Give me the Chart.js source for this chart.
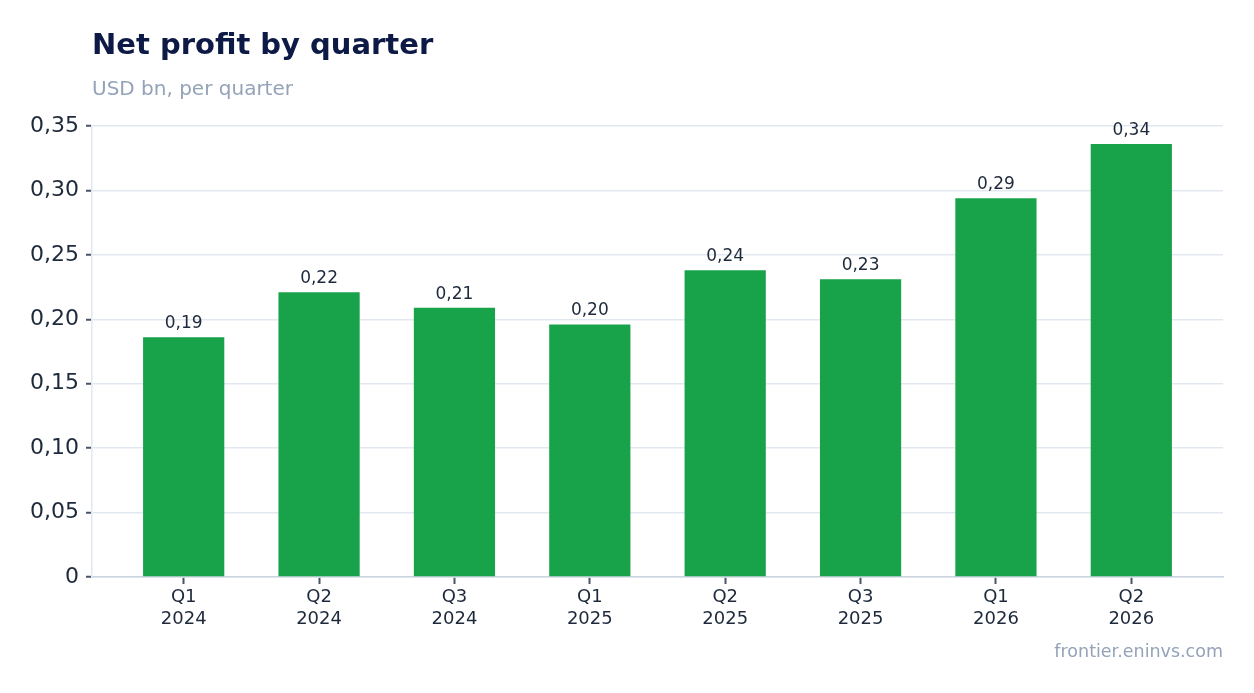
<!DOCTYPE html>
<html>
<head>
<meta charset="utf-8">
<script src="https://cdn.jsdelivr.net/npm/chart.js@4/dist/chart.umd.min.js"></script>
<style>
  html, body { margin: 0; padding: 0; background: #fff; }
  body { width: 1254px; height: 693px; position: relative; overflow: hidden; font-family: "DejaVu Sans", sans-serif; }
  #title { position: absolute; left: 92px; top: 27px; font-size: 29px; font-weight: bold; color: #0c1a45; }
  #subtitle { position: absolute; left: 92px; top: 76px; font-size: 20px; color: #94a3b8; }
  #source { position: absolute; right: 31px; top: 641px; font-size: 17.5px; color: #94a3b8; }
  #wrap { position: absolute; left: 0; top: 0; width: 1254px; height: 693px; }
</style>
</head>
<body>
<div id="wrap"><canvas id="chart"></canvas></div>
<div id="title">Net profit by quarter</div>
<div id="subtitle">USD bn, per quarter</div>
<div id="source">frontier.eninvs.com</div>
<script>
const quarters = ["Q1", "Q2", "Q3", "Q1", "Q2", "Q3", "Q1", "Q2"];
const years = ["2024", "2024", "2024", "2025", "2025", "2025", "2026", "2026"];
const profit = [0.186, 0.221, 0.209, 0.196, 0.238, 0.231, 0.294, 0.336];
const yTicks = [0, 0.05, 0.1, 0.15, 0.2, 0.25, 0.3, 0.35];

const labels = quarters.map((q, i) => [q, years[i]]);
const fmt = (v, d) => (v === 0 ? "0" : v.toFixed(d).replace(".", ","));

// inset the category range a bit so the bars don't touch the axis ends
const xInset = {
  id: "xInset",
  afterLayout(chart) {
    const s = chart.scales.x;
    const pad = 24;
    s._startPixel += pad;
    s._endPixel -= pad;
    s._length -= pad * 2;
  },
};

const valueLabels = {
  id: "valueLabels",
  afterDatasetsDraw(chart) {
    const ctx = chart.ctx;
    const meta = chart.getDatasetMeta(0);
    ctx.save();
    ctx.font = "17px 'DejaVu Sans'";
    ctx.fillStyle = "#1e293b";
    ctx.textAlign = "center";
    ctx.textBaseline = "alphabetic";
    meta.data.forEach((bar, i) => {
      ctx.fillText(fmt(profit[i], 2), bar.x, bar.y - 9);
    });
    ctx.restore();
  },
};

const ctx = document.getElementById("chart").getContext("2d");
new Chart(ctx, {
  type: "bar",
  data: {
    labels: labels,
    datasets: [
      {
        data: profit,
        backgroundColor: "#18a34a",
        barPercentage: 0.6,
        categoryPercentage: 1,
      },
    ],
  },
  options: {
    responsive: true,
    maintainAspectRatio: false,
    animation: false,
    layout: { padding: { top: 126, right: 31, left: 0, bottom: 0 } },
    plugins: {
      legend: { display: false },
      tooltip: { enabled: false },
    },
    scales: {
      x: {
        grid: {
          offset: false,
          drawOnChartArea: false,
          tickLength: 7,
          tickColor: "#475569",
          tickWidth: 2,
        },
        border: { color: "#cbd5e1", width: 1.5 },
        ticks: {
          color: "#1e293b",
          font: { family: "DejaVu Sans", size: 18 },
          padding: 3,
          maxRotation: 0,
        },
        afterFit(scale) { scale.height = 116; },
      },
      y: {
        min: 0,
        max: 0.35,
        afterBuildTicks(scale) {
          scale.ticks = yTicks.map((v) => ({ value: v }));
        },
        grid: {
          color: "#e2e8f0",
          lineWidth: 1.5,
          tickLength: 6,
          tickColor: "#475569",
          tickWidth: 2,
        },
        border: { color: "#e2e8f0", width: 1.5 },
        ticks: {
          color: "#1e293b",
          font: { family: "DejaVu Sans", size: 22 },
          padding: 7,
          callback: (v) => fmt(v, 2),
        },
        afterFit(scale) { scale.width = 92; },
      },
    },
  },
  plugins: [xInset, valueLabels],
});
</script>
</body>
</html>
